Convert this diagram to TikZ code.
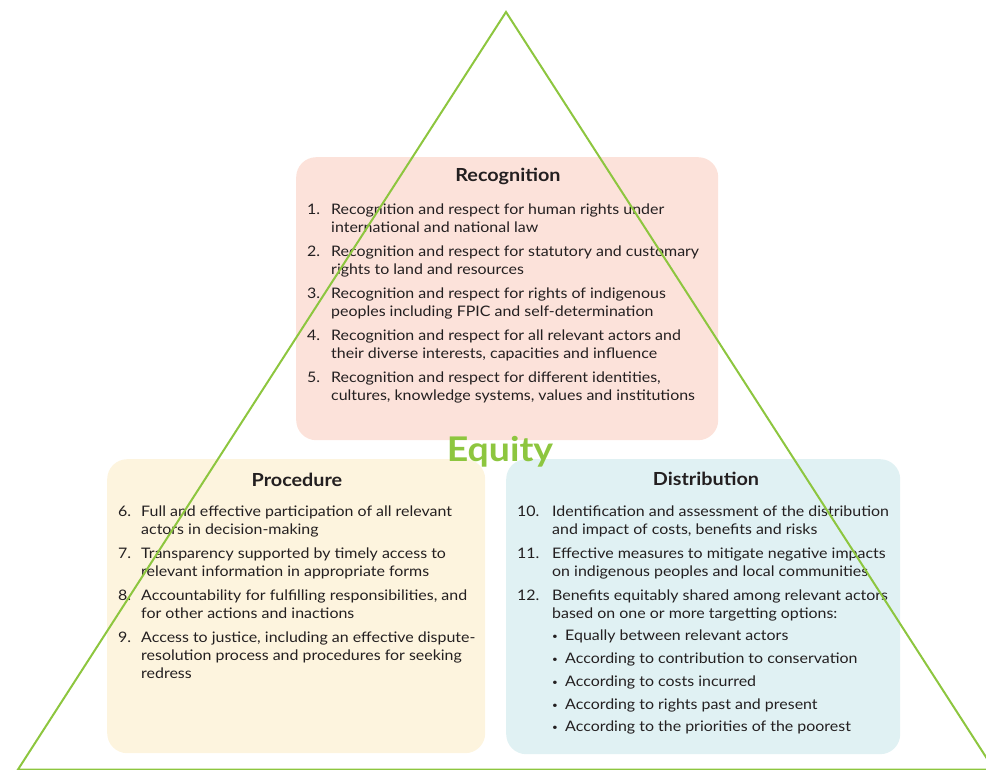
\documentclass[tikz,border=0pt]{standalone}
\usepackage{fontspec}
\setmainfont{Lato}[FakeStretch=1.1]
\usetikzlibrary{positioning, calc}
\definecolor{eqgreen}{HTML}{8DC63F}
\definecolor{recogfill}{HTML}{FCE2DA}
\definecolor{procfill}{HTML}{FDF4DE}
\definecolor{distrfill}{HTML}{E0F1F3}
\definecolor{bodytext}{HTML}{231F20}
\tikzset{
    panel/.style={ % Rounded coloured panel behind each group
        rectangle,
        rounded corners=20pt,
        draw=none,
        anchor=north west,
        inner sep=0pt
    },
    heading/.style={ % Panel titles
        font=\fontsize{18}{21}\selectfont\bfseries,
        text=bodytext,
        anchor=base,
        inner sep=0pt
    },
    itemlist/.style={ % Numbered principles
        font=\fontsize{14.5}{18}\selectfont,
        text=bodytext,
        anchor=north west,
        inner sep=0pt
    },
    triangle line/.style={ % Sides of the equity triangle
        draw=eqgreen,
        line width=2pt,
        line join=miter
    }
}
\newcommand{\eqbullet}{\makebox[13pt][l]{\raisebox{1pt}{\fontsize{9}{10}\selectfont\textbullet}}}

\begin{document}
\begin{tikzpicture}[x=1pt, y=-1pt]
    \useasboundingbox (0,0) rectangle (986,770);
    % panels
    \node[panel, fill=recogfill, minimum width=422pt, minimum height=283pt] (recog) at (296,157) {};
    \node[panel, fill=procfill,  minimum width=378pt, minimum height=294pt] (proc)  at (107,459) {};
    \node[panel, fill=distrfill, minimum width=394pt, minimum height=295pt] (distr) at (506,459) {};
    % titles
    \node[heading] (recogtitle) at (508,182) {Recognition};
    \node[heading] (proctitle)  at (297,486) {Procedure};
    \node[heading] (distrtitle) at (706,485) {Distribution};
    % lists
    \node[itemlist] (recoglist) at (307,201.4) {%
        \begin{tabular}{@{}p{24pt}@{}l@{}}
        1. & Recognition and respect for human rights under\\
           & international and national law\\[6pt]
        2. & Recognition and respect for statutory and customary\\
           & rights to land and resources\\[6pt]
        3. & Recognition and respect for rights of indigenous\\
           & peoples including FPIC and self-determination\\[6pt]
        4. & Recognition and respect for all relevant actors and\\
           & their diverse interests, capacities and influence\\[6pt]
        5. & Recognition and respect for different identities,\\
           & cultures, knowledge systems, values and institutions
        \end{tabular}};
    \node[itemlist] (proclist) at (118,503.4) {%
        \begin{tabular}{@{}p{23pt}@{}l@{}}
        6. & Full and effective participation of all relevant\\
           & actors in decision-making\\[6pt]
        7. & Transparency supported by timely access to\\
           & relevant information in appropriate forms\\[6pt]
        8. & Accountability for fulfilling responsibilities, and\\
           & for other actions and inactions\\[6pt]
        9. & Access to justice, including an effective dispute-\\
           & resolution process and procedures for seeking\\
           & redress
        \end{tabular}};
    \node[itemlist] (distrlist) at (517,503.4) {%
        \begin{tabular}{@{}p{35pt}@{}l@{}}
        10. & Identification and assessment of the distribution\\
            & and impact of costs, benefits and risks\\[6pt]
        11. & Effective measures to mitigate negative impacts\\
            & on indigenous peoples and local communities\\[6pt]
        12. & Benefits equitably shared among relevant actors\\
            & based on one or more targetting options:\\[4.7pt]
            & \eqbullet Equally between relevant actors\\[4.7pt]
            & \eqbullet According to contribution to conservation\\[4.7pt]
            & \eqbullet According to costs incurred\\[4.7pt]
            & \eqbullet According to rights past and present\\[4.7pt]
            & \eqbullet According to the priorities of the poorest
        \end{tabular}};
    % triangle
    \coordinate (apex) at (506,12);
    \coordinate (baseleft) at (18,769.5);
    \coordinate (baseright) at (994,769.5);
    \draw[triangle line] (apex) -- (baseleft) -- (baseright) -- cycle;
    % centre label
    \node[anchor=base, inner sep=0pt, text=eqgreen, font=\fontsize{34}{40}\selectfont\bfseries] (equity) at (500,461) {Equity};
\end{tikzpicture}
\end{document}
